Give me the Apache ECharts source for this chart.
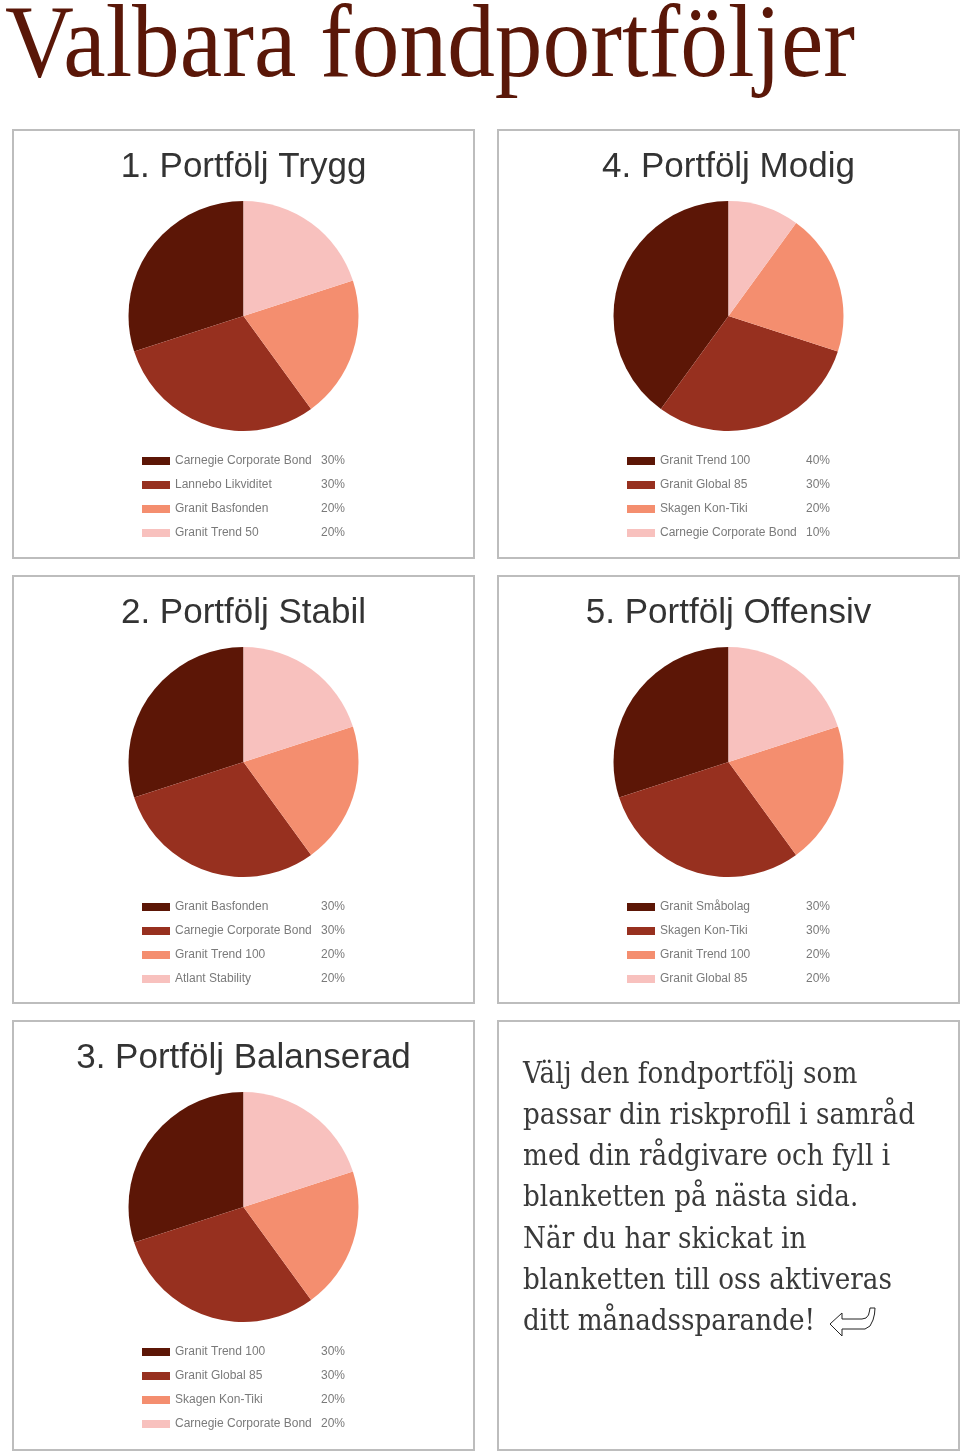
<!DOCTYPE html>
<html><head><meta charset="utf-8">
<script src="https://cdn.jsdelivr.net/npm/echarts@6/dist/echarts.min.js"></script>
<style>html,body{margin:0;padding:0;background:#fff}#c{width:960px;height:1453px}</style>
</head><body><div id="c"></div>
<script>
// ---------- data ----------
const pageTitle = 'Valbara fondportföljer';

const tryggTitle = '1. Portfölj Trygg';
const tryggFunds = ['Carnegie Corporate Bond', 'Lannebo Likviditet', 'Granit Basfonden', 'Granit Trend 50'];
const tryggShares = [30, 30, 20, 20];

const stabilTitle = '2. Portfölj Stabil';
const stabilFunds = ['Granit Basfonden', 'Carnegie Corporate Bond', 'Granit Trend 100', 'Atlant Stability'];
const stabilShares = [30, 30, 20, 20];

const balanseradTitle = '3. Portfölj Balanserad';
const balanseradFunds = ['Granit Trend 100', 'Granit Global 85', 'Skagen Kon-Tiki', 'Carnegie Corporate Bond'];
const balanseradShares = [30, 30, 20, 20];

const modigTitle = '4. Portfölj Modig';
const modigFunds = ['Granit Trend 100', 'Granit Global 85', 'Skagen Kon-Tiki', 'Carnegie Corporate Bond'];
const modigShares = [40, 30, 20, 10];

const offensivTitle = '5. Portfölj Offensiv';
const offensivFunds = ['Granit Småbolag', 'Skagen Kon-Tiki', 'Granit Trend 100', 'Granit Global 85'];
const offensivShares = [30, 30, 20, 20];

const bodyLines = [
  'Välj den fondportfölj som',
  'passar din riskprofil i samråd',
  'med din rådgivare och fyll i',
  'blanketten på nästa sida.',
  'När du har skickat in',
  'blanketten till oss aktiveras',
  'ditt månadssparande!'
];

// ---------- layout / style ----------
const sliceColors = ['#5c1606', '#97301f', '#f48e6f', '#f8c1be'];
const colX = [13, 498];
const rowY = [130, 576, 1021];
const rowH = [428, 427, 429];
const panelW = 461;

const portfolios = [
  { title: tryggTitle, funds: tryggFunds, shares: tryggShares, col: 0, row: 0 },
  { title: modigTitle, funds: modigFunds, shares: modigShares, col: 1, row: 0 },
  { title: stabilTitle, funds: stabilFunds, shares: stabilShares, col: 0, row: 1 },
  { title: offensivTitle, funds: offensivFunds, shares: offensivShares, col: 1, row: 1 },
  { title: balanseradTitle, funds: balanseradFunds, shares: balanseradShares, col: 0, row: 2 }
];

const measureCtx = document.createElement('canvas').getContext('2d');
function textWidth(txt, font) { measureCtx.font = font; return measureCtx.measureText(txt).width; }

const titleFont = '103px "Liberation Serif", serif';
const titleScale = 850 / textWidth(pageTitle, titleFont);
const bodyFont = '29px "DejaVu Serif", serif';
const bodyScale = 392 / textWidth(bodyLines[1], bodyFont);

const series = [];
const legends = [];
const graphics = [];

// panel frames
for (let r = 0; r < 3; r++) {
  for (let c = 0; c < 2; c++) {
    graphics.push({
      type: 'rect', silent: true, z: 0,
      shape: { x: colX[c], y: rowY[r], width: panelW, height: rowH[r] },
      style: { fill: '#fff', stroke: '#bdbdbd', lineWidth: 2 }
    });
  }
}

portfolios.forEach((p) => {
  const cx = colX[p.col] + panelW / 2;
  const top = rowY[p.row];
  series.push({
    type: 'pie',
    name: p.title,
    center: [cx, top + 186],
    radius: 115,
    startAngle: 90,
    clockwise: false,
    silent: true,
    label: { show: false },
    labelLine: { show: false },
    itemStyle: { borderWidth: 0 },
    data: p.funds.map((f, i) => ({ name: f, value: p.shares[i], itemStyle: { color: sliceColors[i] } }))
  });
  const pct = {};
  p.funds.forEach((f, i) => { pct[f] = p.shares[i]; });
  legends.push({
    orient: 'vertical',
    left: colX[p.col] + 129,
    top: top + 325,
    padding: 0,
    itemWidth: 28,
    itemHeight: 8,
    itemGap: 12,
    icon: 'rect',
    selectedMode: false,
    data: p.funds.map((f, i) => ({ name: f, itemStyle: { color: sliceColors[i] } })),
    formatter: (name) => '{n|' + name + '}{v|' + pct[name] + '%}',
    textStyle: {
      color: '#7a7a7a', fontSize: 12, fontFamily: '"Liberation Sans", Arial, sans-serif',
      rich: {
        n: { width: 146, fontSize: 12, color: '#7a7a7a', lineHeight: 12 },
        v: { fontSize: 12, color: '#7a7a7a', lineHeight: 12 }
      }
    }
  });
  graphics.push({
    type: 'text', silent: true, z: 10,
    x: cx, y: top + 37.5,
    style: {
      text: p.title, fill: '#333333',
      font: '35px "Liberation Sans", Arial, sans-serif',
      textAlign: 'center', textVerticalAlign: 'middle'
    }
  });
});

// main title
graphics.push({
  type: 'text', silent: true, z: 10,
  x: 5, y: 49, scaleX: titleScale,
  style: {
    text: pageTitle, fill: '#5a1708', font: titleFont,
    textAlign: 'left', textVerticalAlign: 'middle'
  }
});

// body text
bodyLines.forEach((ln, i) => {
  graphics.push({
    type: 'text', silent: true, z: 10,
    x: 523, y: 1075 + i * 41.3, scaleX: bodyScale,
    style: {
      text: ln, fill: '#3a3a3a', font: bodyFont,
      textAlign: 'left', textVerticalAlign: 'middle'
    }
  });
});

// return arrow
graphics.push({
  type: 'polygon', silent: true, z: 10,
  shape: {
    points: [[830, 1324], [842, 1313], [842, 1319], [862, 1319], [866, 1318], [868.5, 1315], [869.5, 1311], [870, 1308],
             [875, 1308], [874.5, 1314], [873, 1320], [870, 1326], [865, 1329], [842, 1329], [842, 1336]]
  },
  style: { fill: '#ffffff', stroke: '#222222', lineWidth: 1 }
});

const chart = echarts.init(document.getElementById('c'), null, { renderer: 'canvas', width: 960, height: 1453 });
chart.setOption({
  animation: false,
  backgroundColor: '#ffffff',
  legend: legends,
  graphic: { elements: graphics },
  series: series
});
</script>
</body></html>
